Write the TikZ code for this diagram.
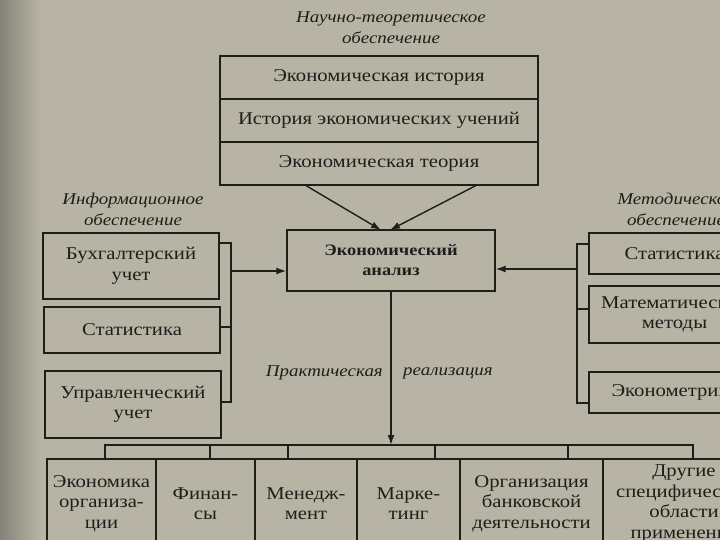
\documentclass[tikz,border=0pt]{standalone}
\usepackage{fontspec}
\setmainfont[FakeStretch=1.15]{Liberation Serif}
\usetikzlibrary{arrows.meta}
\definecolor{paper}{RGB}{184,180,165}
\definecolor{paperdark}{RGB}{132,131,120}
\definecolor{ink}{RGB}{32,29,26}
\begin{document}
\begin{tikzpicture}[x=1pt,y=-1pt,
  box/.style={draw=ink, line width=1.4pt, rectangle, inner sep=0pt, align=center, text=ink,
    font=\fontsize{18}{20.5}\selectfont},
  bbox/.style={box, font=\fontsize{16}{20}\selectfont\bfseries},
  lbl/.style={text=ink, align=center, inner sep=0pt, font=\fontsize{16.5}{21}\selectfont\itshape},
  wire/.style={draw=ink, line width=1.4pt},
  arr/.style={wire, -{Latex[length=10pt,width=7pt]}},
]
\useasboundingbox (0,0) rectangle (720,540);
\clip (0,0) rectangle (720,540);
\fill[paper] (0,0) rectangle (720,540);
\shade[left color=paperdark, right color=paper] (0,0) rectangle (40,540);

% top labels and stack
\node[lbl] (ltop) at (391,27.5) {Научно-теоретическое\\обеспечение};
\node[box, minimum width=318pt, minimum height=43pt] (t1) at (379,77.5) {Экономическая история};
\node[box, minimum width=318pt, minimum height=43pt] (t2) at (379,120.5) {История экономических учений};
\node[box, minimum width=318pt, minimum height=43pt] (t3) at (379,163.5) {Экономическая теория};

% centre
\node[bbox, minimum width=208pt, minimum height=61pt] (c) at (391,260.5) {Экономический\\анализ};

% left
\node[lbl] (lleft) at (133,209.5) {Информационное\\обеспечение};
\node[box, minimum width=176pt, minimum height=66pt] (l1) at (131,266) {Бухгалтерский\\учет};
\node[box, minimum width=176pt, minimum height=46pt] (l2) at (132,330) {Статистика};
\node[box, minimum width=176pt, minimum height=67pt] (l3) at (133,404.5) {Управленческий\\учет};

% right
\node[lbl] (lright) at (676,209.5) {Методическое\\обеспечение};
\node[box, minimum width=171pt, minimum height=41pt] (r1) at (674.5,253.5) {Статистика};
\node[box, minimum width=171pt, minimum height=57pt] (r2) at (674.5,314.5) {Математические\\методы};
\node[box, minimum width=171pt, minimum height=41pt] (r3) at (674.5,392.5) {Эконометрика};

% practical realisation
\node[lbl, anchor=east] (lp1) at (383,373) {Практическая};
\node[lbl, anchor=west] (lp2) at (403,373) {реализация};

% bottom row
\node[box, minimum width=109pt, minimum height=89pt] (b1) at (101.5,503.5) {Экономика\\организа-\\ции};
\node[box, minimum width=99pt, minimum height=89pt] (b2) at (205.5,503.5) {Финан-\\сы};
\node[box, minimum width=102pt, minimum height=89pt] (b3) at (306,503.5) {Менедж-\\мент};
\node[box, minimum width=103pt, minimum height=89pt] (b4) at (408.5,503.5) {Марке-\\тинг};
\node[box, minimum width=143pt, minimum height=89pt] (b5) at (531.5,503.5) {Организация\\банковской\\деятельности};
\node[box, minimum width=162pt, minimum height=89pt] (b6) at (684,503.5) {Другие\\специфические\\области\\применения};

% top arrows
\coordinate (ts1) at (305,185);
\coordinate (ts2) at (477,185);
\coordinate (ce1) at (381,230);
\coordinate (ce2) at (390,230);
\draw[arr] (ts1) -- (ce1);
\draw[arr] (ts2) -- (ce2);

% left bracket
\coordinate (la) at (231,243);
\coordinate (lb) at (231,327);
\coordinate (lc) at (231,402);
\coordinate (lm) at (231,271);
\draw[wire] (la -| l1.east) -- (la) -- (lc) -- (lc -| l3.east);
\draw[wire] (lb -| l2.east) -- (lb);
\draw[arr] (lm) -- (lm -| c.west);

% right bracket
\coordinate (ra) at (577,244);
\coordinate (rb) at (577,309);
\coordinate (rc) at (577,403);
\coordinate (rm) at (577,269);
\draw[wire] (ra -| r1.west) -- (ra) -- (rc) -- (rc -| r3.west);
\draw[wire] (rb -| r2.west) -- (rb);
\draw[arr] (rm) -- (rm -| c.east);

% bus
\coordinate (bus1) at (105,445);
\coordinate (bus2) at (210,445);
\coordinate (bus3) at (288,445);
\coordinate (bus4) at (435,445);
\coordinate (bus5) at (568,445);
\coordinate (bus6) at (693,445);
\draw[arr] (c.south) -- (c.south |- bus1);
\draw[wire] (bus1 |- b1.north) -- (bus1) -- (bus6) -- (bus6 |- b6.north);
\foreach \k/\b in {2/b2,3/b3,4/b4,5/b5} {
  \draw[wire] (bus\k) -- (bus\k |- \b.north);
}
\end{tikzpicture}
\end{document}
